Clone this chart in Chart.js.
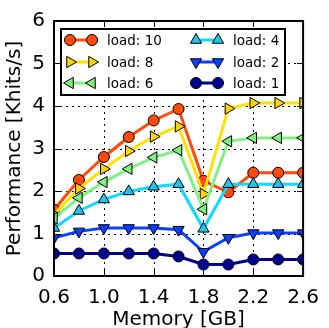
<!DOCTYPE html>
<html><head><meta charset="utf-8">
<script src="https://cdn.jsdelivr.net/npm/chart.js@4/dist/chart.umd.min.js"></script>
<style>html,body{margin:0;padding:0;background:#fff;}#wrap{width:329px;height:328px;}</style>
</head><body><div id="wrap"><canvas id="c" width="329" height="328"></canvas></div>
<script>
const memory = [0.6, 0.8, 1.0, 1.2, 1.4, 1.6, 1.8, 2.0, 2.2, 2.4, 2.6];
const load10 = [1.56, 2.26, 2.80, 3.27, 3.66, 3.93, 2.24, 1.97, 2.43, 2.43, 2.43];
const load8  = [1.45, 2.06, 2.52, 2.94, 3.28, 3.52, 1.93, 3.94, 4.07, 4.07, 4.07];
const load6  = [1.36, 1.84, 2.21, 2.52, 2.79, 2.96, 1.57, 3.17, 3.25, 3.25, 3.25];
const load4  = [1.13, 1.53, 1.80, 1.99, 2.10, 2.16, 1.11, 2.16, 2.16, 2.16, 2.16];
const load2  = [0.90, 1.05, 1.13, 1.13, 1.13, 1.09, 0.57, 0.90, 1.01, 1.01, 1.01];
const load1  = [0.53, 0.53, 0.53, 0.53, 0.53, 0.46, 0.27, 0.27, 0.39, 0.39, 0.39];
const seriesLabels = ['load: 10', 'load: 8', 'load: 6', 'load: 4', 'load: 2', 'load: 1'];
const xTicks = [0.6, 1.0, 1.4, 1.8, 2.2, 2.6];
const yTicks = [0, 1, 2, 3, 4, 5, 6];

const seriesValues = [load10, load8, load6, load4, load2, load1];
const lineColors = ['#FF4A0A', '#FFE000', '#80F080', '#10D8FF', '#0A40FF', '#000090'];
const fillColors = ['#FF4A0A', '#FFD400', '#80F080', '#20C4EC', '#0A40FF', '#000090'];
const styles = ['circle', 'triangle', 'triangle', 'triangle', 'triangle', 'circle'];
const rotations = [0, 90, -90, 0, 180, 0];
const radii = [5.5, 6.5, 6.5, 6.5, 6.5, 5.5];

const datasets = seriesValues.map((vals, i) => ({
  label: seriesLabels[i],
  data: vals.map((v, j) => ({x: memory[j], y: v})),
  borderColor: lineColors[i],
  backgroundColor: fillColors[i],
  borderWidth: 3,
  pointStyle: styles[i],
  pointRotation: rotations[i],
  pointRadius: radii[i],
  pointBackgroundColor: fillColors[i],
  pointBorderColor: '#000',
  pointBorderWidth: 1,
  tension: 0,
  clip: 0,
  order: 6 - i
}));

const FONT = 'DejaVu Sans';

const gridPlugin = {
  id: 'dotgrid',
  beforeDatasetsDraw(chart) {
    const {ctx, chartArea: a, scales} = chart;
    ctx.save();
    ctx.strokeStyle = '#000';
    ctx.lineWidth = 1;
    ctx.setLineDash([2, 4]);
    ctx.beginPath();
    xTicks.slice(1, -1).forEach(t => {
      const x = Math.round(scales.x.getPixelForValue(t)) + 0.5;
      ctx.moveTo(x, a.bottom); ctx.lineTo(x, a.top);
    });
    yTicks.slice(1, -1).forEach(t => {
      const y = Math.round(scales.y.getPixelForValue(t)) + 0.5;
      ctx.moveTo(a.left, y); ctx.lineTo(a.right, y);
    });
    ctx.stroke();
    ctx.restore();
  }
};

const frame = {
  id: 'frame',
  afterDatasetsDraw(chart) {
    const {ctx, chartArea: a, scales} = chart;
    ctx.save();
    ctx.strokeStyle = '#000';
    ctx.lineWidth = 1;
    const L = 6;
    ctx.beginPath();
    xTicks.forEach(t => {
      const x = Math.round(scales.x.getPixelForValue(t)) + 0.5;
      ctx.moveTo(x, a.bottom); ctx.lineTo(x, a.bottom - L);
      ctx.moveTo(x, a.top); ctx.lineTo(x, a.top + L);
    });
    yTicks.forEach(t => {
      const y = Math.round(scales.y.getPixelForValue(t)) + 0.5;
      ctx.moveTo(a.left, y); ctx.lineTo(a.left + L, y);
      ctx.moveTo(a.right, y); ctx.lineTo(a.right - L, y);
    });
    ctx.stroke();
    ctx.lineWidth = 2;
    ctx.strokeRect(a.left, a.top, a.right - a.left, a.bottom - a.top);

    // legend
    const bx = a.left + 7, by = a.top + 8, bw = 224, bh = 66;
    ctx.fillStyle = '#fff';
    ctx.fillRect(bx, by, bw, bh);
    ctx.lineWidth = 2;
    ctx.strokeRect(bx, by, bw, bh);
    const colX = [bx + 8, bx + 134];
    const rowY = [by + 11, by + 33, by + 54];
    ctx.font = '13.5px "' + FONT + '"';
    ctx.textBaseline = 'middle';
    seriesLabels.forEach((lab, i) => {
      const c = Math.floor(i / 3), r = i % 3;
      const x0 = colX[c], y0 = rowY[r];
      const m1 = x0 + 1, m2 = x0 + 23;
      ctx.strokeStyle = lineColors[i];
      ctx.lineWidth = 3;
      ctx.beginPath(); ctx.moveTo(m1, y0); ctx.lineTo(m2, y0); ctx.stroke();
      [m1, m2].forEach(mx => {
        ctx.fillStyle = fillColors[i];
        ctx.strokeStyle = '#000';
        ctx.lineWidth = 1;
        Chart.helpers.drawPoint(ctx, {pointStyle: styles[i], rotation: rotations[i], radius: radii[i], borderWidth: 1}, mx, y0);
      });
      ctx.fillStyle = '#000';
      ctx.fillText(lab, x0 + 38, y0 + 1);
    });
    ctx.restore();
  }
};

new Chart(document.getElementById('c'), {
  type: 'line',
  data: {datasets},
  options: {
    responsive: false,
    animation: false,
    devicePixelRatio: 1,
    layout: {padding: {top: 14, right: 20, left: 0, bottom: 0}},
    plugins: {legend: {display: false}, tooltip: {enabled: false}},
    scales: {
      x: {
        type: 'linear', min: 0.6, max: 2.6,
        afterBuildTicks: s => { s.ticks = xTicks.map(v => ({value: v})); },
        afterFit: s => { s.height = 52; },
        ticks: {callback: v => v.toFixed(1), color: '#000', font: {family: FONT, size: 20}, padding: 10, maxRotation: 0, autoSkip: false},
        grid: {display: false, drawTicks: false, tickLength: 0},
        border: {display: false},
        title: {display: true, text: 'Memory [GB]', color: '#000', font: {family: FONT, size: 20}, padding: {top: 0, bottom: -4}}
      },
      y: {
        type: 'linear', min: 0, max: 6,
        afterBuildTicks: s => { s.ticks = yTicks.map(v => ({value: v})); },
        afterFit: s => { s.width = 54; },
        ticks: {color: '#000', font: {family: FONT, size: 20}, padding: 9},
        grid: {display: false, drawTicks: false, tickLength: 0},
        border: {display: false},
        title: {display: true, text: 'Performance [Khits/s]', color: '#000', font: {family: FONT, size: 20}, padding: {top: 3, bottom: 0}}
      }
    }
  },
  plugins: [gridPlugin, frame]
});
</script></body></html>
